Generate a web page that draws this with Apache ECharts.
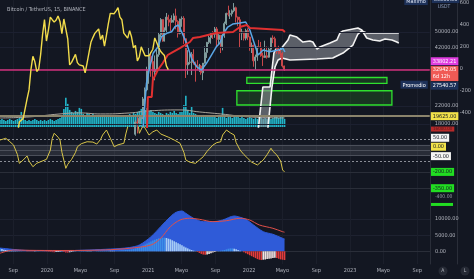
<!DOCTYPE html>
<html><head><meta charset="utf-8">
<script src="https://cdn.jsdelivr.net/npm/echarts@6/dist/echarts.min.js"></script>
<style>html,body{margin:0;padding:0;background:#131722;}#c{width:474px;height:279px;}</style>
</head><body><div id="c"></div>
<script>
const FONT = "'Liberation Sans Narrow','DejaVu Sans Condensed',sans-serif";
const TXT = '#b2b5be';
const FS = 5.5;
const DAY = 86400000;
const t = s => Date.parse(s + 'T00:00:00Z');
const WEEK0 = t('2019-07-15');
const wk = i => WEEK0 + i * 7 * DAY;
const X_MIN = t('2019-07-15'), X_MAX = t('2023-10-17');

// x axis ticks
const xTickDates = ['2019-09-01','2020-01-01','2020-05-01','2020-09-01','2021-01-01','2021-05-01','2021-09-01','2022-01-01','2022-05-01','2022-09-01','2023-01-01','2023-05-01','2023-09-01'];
const xTickLabels = ['Sep','2020','Mayo','Sep','2021','Mayo','Sep','2022','Mayo','Sep','2023','Mayo','Sep'];
const xTickTimes = xTickDates.map(t);

// weekly candles from week 60 (2020-09-07): [open, high, low, close]
const candleStartWeek = 60;
const ohlc = [
[10280,11100,9880,10950],[10950,11180,10660,10920],[10920,10990,10130,10770],[10770,10950,10370,11050],
[11050,11720,10550,11370],[11370,11730,11180,11500],[11500,13350,11410,13030],[13030,14100,12960,13790],
[13790,15960,13290,15480],[15480,16480,14840,16050],[16050,18800,15800,18400],[18400,19420,16200,18180],
[18180,19920,18000,19150],[19150,19420,17600,19270],[19270,24300,19000,23780],[23780,27000,22350,26280],
[26280,34000,25900,33000],[33000,41950,28130,38150],[38150,40100,30420,36020],[36020,37850,28850,32260],
[32260,38530,29240,33090],[33090,41000,32300,38900],[38900,49700,37990,48580],[48580,58350,47000,57490],
[57490,57540,44900,45240],[45240,52640,45000,50970],[50970,61780,49300,59020],[59020,60600,53300,57350],
[57350,58400,50400,55820],[55820,60200,55400,57090],[57090,61500,55500,59800],[59800,64850,51540,56250],
[56250,57000,47000,49100],[49100,58000,48800,57800],[57800,59500,53000,58200],[58200,59600,43800,46400],
[46400,46600,30000,34700],[34700,40900,31100,35700],[35700,39500,34900,35800],[35800,40000,31000,39000],
[39000,41300,34800,35600],[35600,36000,28800,34700],[34700,36600,32700,34250],[34250,35100,32100,34260],
[34260,34700,31100,31800],[31800,35400,29300,35400],[35400,42600,35200,39800],[39800,44800,37500,44600],
[44600,48100,43800,47000],[47000,49400,43900,49250],[49250,50500,46300,48800],[48800,52900,46900,51750],
[51750,52900,42800,46000],[46000,48800,43400,48300],[48300,48400,39600,42700],[42700,49000,40800,48200],
[48200,56100,46900,54900],[54900,62000,54000,61500],[61500,67000,59500,60900],[60900,63700,57800,61300],
[61300,64300,59400,63300],[63300,69000,62300,65500],[65500,66300,55600,59000],[59000,59400,53300,57300],
[57300,59200,42000,49400],[49400,51900,45700,50100],[50100,50200,45500,46700],[46700,51900,45600,50800],
[50800,52100,45700,47300],[47300,47600,40600,41900],[41900,44500,39600,43100],[43100,43500,34000,36300],
[36300,38900,32900,37900],[37900,42600,36300,42400],[42400,45800,41700,42200],[42200,44800,38000,38400],
[38400,39800,34300,37700],[37700,45400,37500,38400],[38400,42600,37200,37800],[37800,42400,37600,41300],
[41300,46900,40500,46800],[46800,48200,44200,46400],[46400,47500,42100,42200],[42200,42400,39200,40400],
[40400,42900,39000,39400],[39400,40800,37600,38500],[38500,40000,33700,34300],[34300,34400,32500,32942.05]
];
const CHIKOU_SHIFT = 60; // weeks

const tenkan = [['2020-12-06',15060],['2020-12-14',17460],['2020-12-26',28280],['2021-01-07',34010],['2021-01-19',39470],['2021-02-06',42470],['2021-02-18',47460],['2021-03-09',49290],['2021-03-27',50170],['2021-04-08',53040],['2021-04-20',54050],['2021-05-02',50170],['2021-05-20',44100],['2021-06-07',37330],['2021-06-25',34010],['2021-07-13',32780],['2021-07-31',35320],['2021-08-18',38730],['2021-09-05',42470],['2021-09-17',44100],['2021-10-02',49450],['2021-10-16',52860],['2021-11-03',54650],['2021-11-29',55260],['2021-12-20',55880],['2022-01-04',51130],['2022-01-16',45750],['2022-02-03',38730],['2022-02-21',40940],['2022-03-17',40170],['2022-04-16',40940],['2022-05-04',41720],['2022-05-11',40040]];
const kijun = [['2020-12-24',15060],['2020-12-28',17400],['2020-12-31',24280],['2021-01-14',24280],['2021-01-18',29330],['2021-02-05',32780],['2021-02-23',35430],['2021-03-13',38730],['2021-03-31',40040],['2021-04-26',41860],['2021-05-14',43280],['2021-06-01',44750],['2021-06-12',46780],['2021-07-07',47300],['2021-09-03',49450],['2021-11-04',50000],['2021-11-29',52860],['2021-12-24',54050],['2022-01-04',52280],['2022-05-03',51130],['2022-05-11',50000]];
const spanA = [['2022-01-30',15000],['2022-02-20',27140],['2022-03-18',27140],['2022-04-01',39600],['2022-04-08',41400],['2022-04-23',40940],['2022-05-22',45750],['2022-05-29',48360],['2022-06-23',47300],['2022-07-15',44750],['2022-08-09',45250],['2022-08-20',44750],['2022-09-04',41400],['2022-09-14',42330],['2022-10-21',44300],['2022-11-15',45750],['2022-11-26',49450],['2022-12-07',50600],['2023-01-30',52280],['2023-02-13',51130],['2023-03-03',46780],['2023-03-25',45750],['2023-04-19',45250],['2023-05-08',46260],['2023-06-02',45750],['2023-06-20',44750],['2023-06-27',44200]];
const spanB = [['2022-03-06',15000],['2022-03-25',27140],['2022-04-05',33890],['2022-04-16',36630],['2022-04-30',37460],['2022-05-29',36630],['2022-09-04',37040],['2022-10-31',37460],['2022-12-07',39600],['2023-01-12',43280],['2023-01-30',48900],['2023-02-13',50600],['2023-03-03',49450],['2023-06-27',49450]];

// weekly volume (k) from week 0
const volumes = [
315,360,315,270,315,360,315,270,315,360,
405,675,360,315,270,315,270,315,360,315,
270,315,270,315,270,315,360,315,270,315,
360,405,540,810,1305,1035,765,675,630,720,
675,855,810,585,540,630,585,540,585,540,
495,540,450,495,540,450,495,540,495,450,
495,450,540,495,450,495,540,585,540,630,
585,675,720,810,900,765,855,720,765,675,
630,585,675,630,585,540,630,585,675,630,
720,630,585,675,675,990,1395,765,630,900,
630,585,540,495,450,540,495,450,495,450,
495,450,405,450,495,855,450,405,495,450,
405,450,495,450,405,450,405,360,405,450,
405,360,405,360,450,405,360,405,360,405,
360,405,450,540,405,495,540,360];
const volMaWeeks = [0,15,31,41,52,67,77,93,103,114,129,147];
const volMaVals = [405,450,585,630,585,630,720,765,675,585,450,405];

const cciWeeks = [0,3,5,7,9,10,12,14,15,17,19,21,22,24,26,27,28,30,31,32,34,35,37,39,40,42,45,46,48,50,52,53,55,57,59,61,64,65,66,68,71,72,74,76,77,79,81,83,84,87,90,91,93,95,96,98,101,103,105,107,110,112,114,115,117,119,121,122,124,126,128,130,133,134,136,138,140,141,143,145,146,147];
const cciVals = [94,110,80,48,-40,-121,-90,-53,-100,-152,-120,-106,-95,-84,0,110,156,120,94,-20,-167,-130,-84,-20,32,60,78,70,75,57,100,140,186,110,32,50,64,150,217,270,280,156,232,170,140,170,186,150,140,120,94,80,64,-20,-90,-110,-121,-90,-60,-10,48,70,78,140,186,160,140,70,2,-40,-75,-110,-136,-120,-90,-40,18,-10,-44,-100,-182,-200];

const macdWeeks = [0,5,10,15,26,31,36,41,46,52,57,62,67,72,78,83,88,91,94,96,100,105,110,115,121,123,127,131,136,141,146,147];
const macdVals = [1000,700,400,250,250,150,200,300,400,550,700,860,1170,1940,4500,7600,10680,12040,12440,11730,10190,9140,9140,9660,10900,10680,9880,8120,6050,5250,4010,3800];
const signalWeeks = [0,7,15,31,46,57,67,78,83,88,93,98,103,110,117,124,129,134,141,146,147];
const signalVals = [-600,400,300,250,300,500,930,1940,4010,7590,9660,10190,9880,9140,9440,10190,9660,8120,7100,6050,5900];
const hist = [
900,700,500,400,300,
200,150,100,80,50,30,20,0,-20,-30,-40,-50,-50,-40,-30,-20,
-30,-50,-80,-100,-150,-200,-250,-300,-250,-200,
-150,-100,-200,-350,-400,-300,-200,-100,-50,0,
50,80,100,120,100,80,60,50,40,60,80,
100,120,150,180,200,180,160,150,170,200,250,300,350,400,450,500,
600,700,900,1100,1300,1500,1800,2100,
2400,2700,3000,3300,3600,3800,4000,4100,4200,4200,4100,3900,3700,3400,3100,
2800,2500,2200,1900,1500,1200,900,600,400,200,50,
-200,-500,-800,-1000,-1100,-1000,-800,-600,-400,-200,
-50,100,200,300,400,
600,800,900,900,800,600,400,200,
0,-300,-600,-900,-1200,-1500,
-1800,-2100,-2400,-2600,-2700,-2600,-2500,-2400,-2300,-2200,-2100,-2000,-2100,-2300,-2500,-2600,-2700];

const zones = [['2021-12-24','2023-05-15',28280,30160],['2021-11-18','2023-06-02',22220,26040]];
const priceTicks = [50000,42000,22000,18000];
const highPrice = 69000, markPrice = 33802.21, avgPrice = 27540.57, levelPrice = 19625;
const lastClose = ohlc[ohlc.length-1][3];
const outerTicks = [-400,-200,0,200,400,600];
const macdTicks = [0,5000,10000];

// ---------- helpers ----------
const noLine = {color:'rgba(0,0,0,0)', width:0};
const plain = (text, extra) => Object.assign({show:true, position:'end', distance:5, formatter:text, color:TXT, fontSize:FS, fontFamily:FONT}, extra||{});
const box = (text, bg, fg, extra) => Object.assign({show:true, position:'end', distance:1, formatter:text, color:fg, backgroundColor:bg, fontSize:FS, fontFamily:FONT, padding:[1,2,0,2], lineHeight:7}, extra||{});
const pairs = arr => arr.map(([d,v]) => [t(d), v]);
const histColor = k => {
  const v = hist[k], p = k > 0 ? hist[k-1] : v;
  if (v >= 0) return v >= p ? '#3b8ee6' : '#a6ccf5';
  return v <= p ? '#e23b3b' : '#f1e4e4';
};

const xBase = (gi, extra) => Object.assign({
  type:'value', gridIndex:gi, min:X_MIN, max:X_MAX,
  axisTick:{show:false, customValues:xTickTimes},
  axisLabel:{show:false},
  axisLine:{show:false},
  splitLine:{show:true, lineStyle:{color:'#1b1f2b', width:1}}
}, extra||{});

const chart = echarts.init(document.getElementById('c'), null, {renderer:'canvas'});
const option = {
  backgroundColor:'#131722',
  animation:false,
  title:{text:'Bitcoin / TetherUS, 15, BINANCE', left:2, top:2, textStyle:{color:TXT, fontSize:5.5, fontWeight:'normal', fontFamily:FONT}},
  grid:[
    {left:0, right:44, top:0, height:127},
    {left:0, right:44, top:60, height:67},
    {left:0, right:44, top:127, height:78},
    {left:0, right:44, top:205, height:59}
  ],
  xAxis:[
    xBase(0, {axisLine:{show:true, lineStyle:{color:'#2a2e39'}}}),
    xBase(1, {splitLine:{show:false}}),
    xBase(2, {axisLine:{show:true, lineStyle:{color:'#2a2e39'}}}),
    xBase(3, {axisLine:{show:true, lineStyle:{color:'#2a2e39'}},
      axisLabel:{show:true, customValues:xTickTimes, margin:4, color:TXT, fontSize:FS, fontFamily:FONT,
        formatter: v => { const i = xTickTimes.indexOf(v); return i >= 0 ? xTickLabels[i] : ''; }}})
  ],
  yAxis:[
    {type:'log', gridIndex:0, min:17400, max:71360, position:'right', axisLine:{show:true, lineStyle:{color:'#2a2e39'}}, axisTick:{show:false}, axisLabel:{show:false}, splitLine:{show:false}},
    {type:'value', gridIndex:0, min:-527, max:627, position:'right', offset:27, axisLine:{show:true, lineStyle:{color:'#2a2e39'}}, axisTick:{show:false},
      axisLabel:{customValues:outerTicks, margin:3, color:TXT, fontSize:FS, fontFamily:FONT, formatter: v => String(v)}, splitLine:{show:false}},
    {type:'value', gridIndex:1, min:0, max:3000, show:false},
    {type:'value', gridIndex:2, min:-505, max:214, position:'right', axisLine:{show:true, lineStyle:{color:'#2a2e39'}}, axisTick:{show:false}, axisLabel:{show:false}, splitLine:{show:false}},
    {type:'value', gridIndex:3, min:-3920, max:14290, position:'right', axisLine:{show:true, lineStyle:{color:'#2a2e39'}},
      axisTick:{show:false, customValues:macdTicks},
      axisLabel:{customValues:macdTicks, margin:5, color:TXT, fontSize:FS, fontFamily:FONT, formatter: v => v.toFixed(2)},
      splitLine:{show:true, lineStyle:{color:'#1e2230'}}},
    {type:'value', gridIndex:2, min:0, max:1, position:'right', offset:27, axisLine:{show:true, lineStyle:{color:'#2a2e39'}}, axisTick:{show:false}, axisLabel:{show:false}, splitLine:{show:false}},
    {type:'value', gridIndex:3, min:0, max:1, position:'right', offset:27, axisLine:{show:true, lineStyle:{color:'#2a2e39'}}, axisTick:{show:false}, axisLabel:{show:false}, splitLine:{show:false}}
  ],
  series:[
    {type:'bar', xAxisIndex:1, yAxisIndex:2, z:1, barWidth:1.6, itemStyle:{color:'#22b5c9'},
      data: volumes.map((v,k) => [wk(k), v])},
    {type:'line', xAxisIndex:1, yAxisIndex:2, z:1, symbol:'none', smooth:true, lineStyle:{color:'#a9a49a', width:1},
      data: volMaWeeks.map((w,k) => [wk(w), volMaVals[k]])},
    {type:'custom', xAxisIndex:0, yAxisIndex:0, z:2, clip:true,
      data:[[t('2022-06-01'), 40000]],
      renderItem:(params, api) => {
        const pts = [];
        pairs(spanA).forEach(p => pts.push(api.coord(p)));
        pairs(spanB).reverse().forEach(p => pts.push(api.coord(p)));
        return {type:'polygon', shape:{points:pts}, style:{fill:'rgba(140,143,152,0.6)'}};
      }},
    {type:'line', xAxisIndex:0, yAxisIndex:0, z:3, symbol:'none', lineStyle:{color:'#f2f2f2', width:1.6}, data:pairs(spanA)},
    {type:'line', xAxisIndex:0, yAxisIndex:0, z:3, symbol:'none', lineStyle:{color:'#f2f2f2', width:1.6}, data:pairs(spanB)},
    {type:'candlestick', xAxisIndex:0, yAxisIndex:0, z:4, barWidth:1.5,
      encode:{x:0, y:[1,2,3,4]},
      itemStyle:{color:'#7f9c9c', color0:'#c8474a', borderColor:'#7f9c9c', borderColor0:'#c8474a', borderWidth:1},
      data: ohlc.map((r,k) => [wk(candleStartWeek+k), r[0], r[3], r[2], r[1]]),
      markArea:{silent:true, label:{show:false}, itemStyle:{color:'rgba(34,100,36,0.4)', borderColor:'#2fe02f', borderWidth:1.3},
        data: zones.map(z => [{xAxis:t(z[0]), yAxis:z[3]}, {xAxis:t(z[1]), yAxis:z[2]}])},
      markLine:{symbol:['none','none'], silent:true, animation:false,
        data:[
          ...priceTicks.map(v => ({yAxis:v, lineStyle:{color:'#1c2030', width:1, type:'solid'}, label:plain(v.toFixed(2))})),
          {yAxis:levelPrice, lineStyle:{color:'#8b846c', width:2, type:'solid'}, label:box(levelPrice.toFixed(2), '#f2e34a', '#131722')},
          {yAxis:markPrice, lineStyle:noLine, label:box(markPrice.toFixed(2), '#e03de0', '#ffffff', {offset:[0,-6]})},
          {yAxis:avgPrice, lineStyle:noLine, label:box(avgPrice.toFixed(2), '#1d3159', '#ffffff')},
          {yAxis:avgPrice, lineStyle:noLine, label:box('Promedio', '#1d3159', '#ffffff', {position:'insideEndTop', distance:[2,1], offset:[0,4]})},
          {yAxis:highPrice, lineStyle:noLine, label:{show:true, position:'end', distance:2, formatter:'{v|'+highPrice.toFixed(2)+'}\n{u|USDT}',
            rich:{v:{backgroundColor:'#1d3159', color:'#dfe6f5', padding:[1,2,0,2], fontSize:FS, fontFamily:FONT, lineHeight:7},
                  u:{color:'#8ea0c0', fontSize:5, fontFamily:FONT, padding:[0,0,0,6], lineHeight:7}}}},
          {yAxis:highPrice, lineStyle:noLine, label:box('Máximo', '#1d3159', '#dfe6f5', {position:'insideEndTop', distance:[2,1], offset:[0,3]})},
          {yAxis:lastClose, lineStyle:{color:'#d0307c', width:1.5, type:'solid'}, label:box(lastClose.toFixed(2)+'\n6d 12h', '#f05a55', '#ffffff', {offset:[0,4]})}
        ]}},
    {type:'line', xAxisIndex:0, yAxisIndex:0, z:5, symbol:'none', lineStyle:{color:'#5aa7e6', width:1.5}, data:pairs(tenkan)},
    {type:'line', xAxisIndex:0, yAxisIndex:0, z:5, symbol:'none', lineStyle:{color:'#e03030', width:2}, data:pairs(kijun)},
    {type:'line', xAxisIndex:0, yAxisIndex:0, z:5, symbol:'none', lineStyle:{color:'#f2dc4b', width:1.4},
      data: ohlc.map((r,k) => [wk(candleStartWeek + k - CHIKOU_SHIFT), r[3]])},
    {type:'line', xAxisIndex:2, yAxisIndex:3, z:5, symbol:'none', lineStyle:{color:'#d9c64a', width:1},
      data: cciWeeks.map((w,k) => [wk(w), cciVals[k]]),
      markArea:{silent:true, label:{show:false}, itemStyle:{color:'rgba(120,123,134,0.22)'}, data:[[{yAxis:50},{yAxis:-50}]]},
      markLine:{symbol:['none','none'], silent:true, animation:false,
        data:[
          {yAxis:100, lineStyle:{color:'#8a8d96', type:[2,2], width:1}, label:{show:false}},
          {yAxis:-100, lineStyle:{color:'#8a8d96', type:[2,2], width:1}, label:{show:false}},
          {yAxis:50, lineStyle:{color:'#4b4f5a', width:1, type:'solid'}, label:box('50.00', '#f4f4f4', '#131722', {offset:[0,-7]})},
          {yAxis:0, lineStyle:{color:'#4b4f5a', width:1, type:'solid'}, label:box('0.00', '#f2e34a', '#131722', {offset:[0,-3.5]})},
          {yAxis:-50, lineStyle:{color:'#4b4f5a', width:1, type:'solid'}, label:box('-50.00', '#f4f4f4', '#131722', {offset:[0,0.5]})},
          {yAxis:-200, lineStyle:{color:'#2a2e39', width:1, type:'solid'}, label:box('-200.00', '#22dd22', '#131722')},
          {yAxis:-350, lineStyle:{color:'#2a2e39', width:1, type:'solid'}, label:box('-350.00', '#22dd22', '#131722')},
          {yAxis:-400, lineStyle:noLine, label:plain('-400.00', {offset:[0,3], color:'#9aa0aa', fontSize:5})},
          {yAxis:-500, lineStyle:noLine, label:box(' ', '#22dd22', '#22dd22', {padding:0, width:22, height:3, lineHeight:3})},
          {yAxis:195, lineStyle:noLine, label:box('16000.00', '#b52a2a', '#5a1a1a', {padding:[0,2], lineHeight:5, fontSize:4.5})}
        ]}},
    {type:'line', xAxisIndex:3, yAxisIndex:4, z:3, symbol:'none', smooth:0.3, lineStyle:{color:'#2f5bd8', width:1},
      areaStyle:{color:'#2f5bd8', opacity:1, origin:0},
      data: macdWeeks.map((w,k) => [wk(w), macdVals[k]])},
    {type:'bar', xAxisIndex:3, yAxisIndex:4, z:4, barWidth:1.6,
      data: hist.map((v,k) => ({value:[wk(k), v], itemStyle:{color:histColor(k)}}))},
    {type:'line', xAxisIndex:3, yAxisIndex:4, z:5, symbol:'none', smooth:0.3, lineStyle:{color:'#e0504a', width:1},
      data: signalWeeks.map((w,k) => [wk(w), signalVals[k]])}
  ],
  graphic:[
    {type:'circle', left:438.5, top:266.5, shape:{r:4.5}, style:{fill:'#262a35'}},
    {type:'text', left:441.3, top:268.3, style:{text:'A', fill:TXT, fontSize:5, fontFamily:FONT}},
    {type:'circle', left:460.5, top:266.5, shape:{r:4.5}, style:{fill:'#262a35'}},
    {type:'text', left:463.8, top:268.3, style:{text:'L', fill:TXT, fontSize:5, fontFamily:FONT}}
  ]
};
chart.setOption(option);
</script>
</body></html>
